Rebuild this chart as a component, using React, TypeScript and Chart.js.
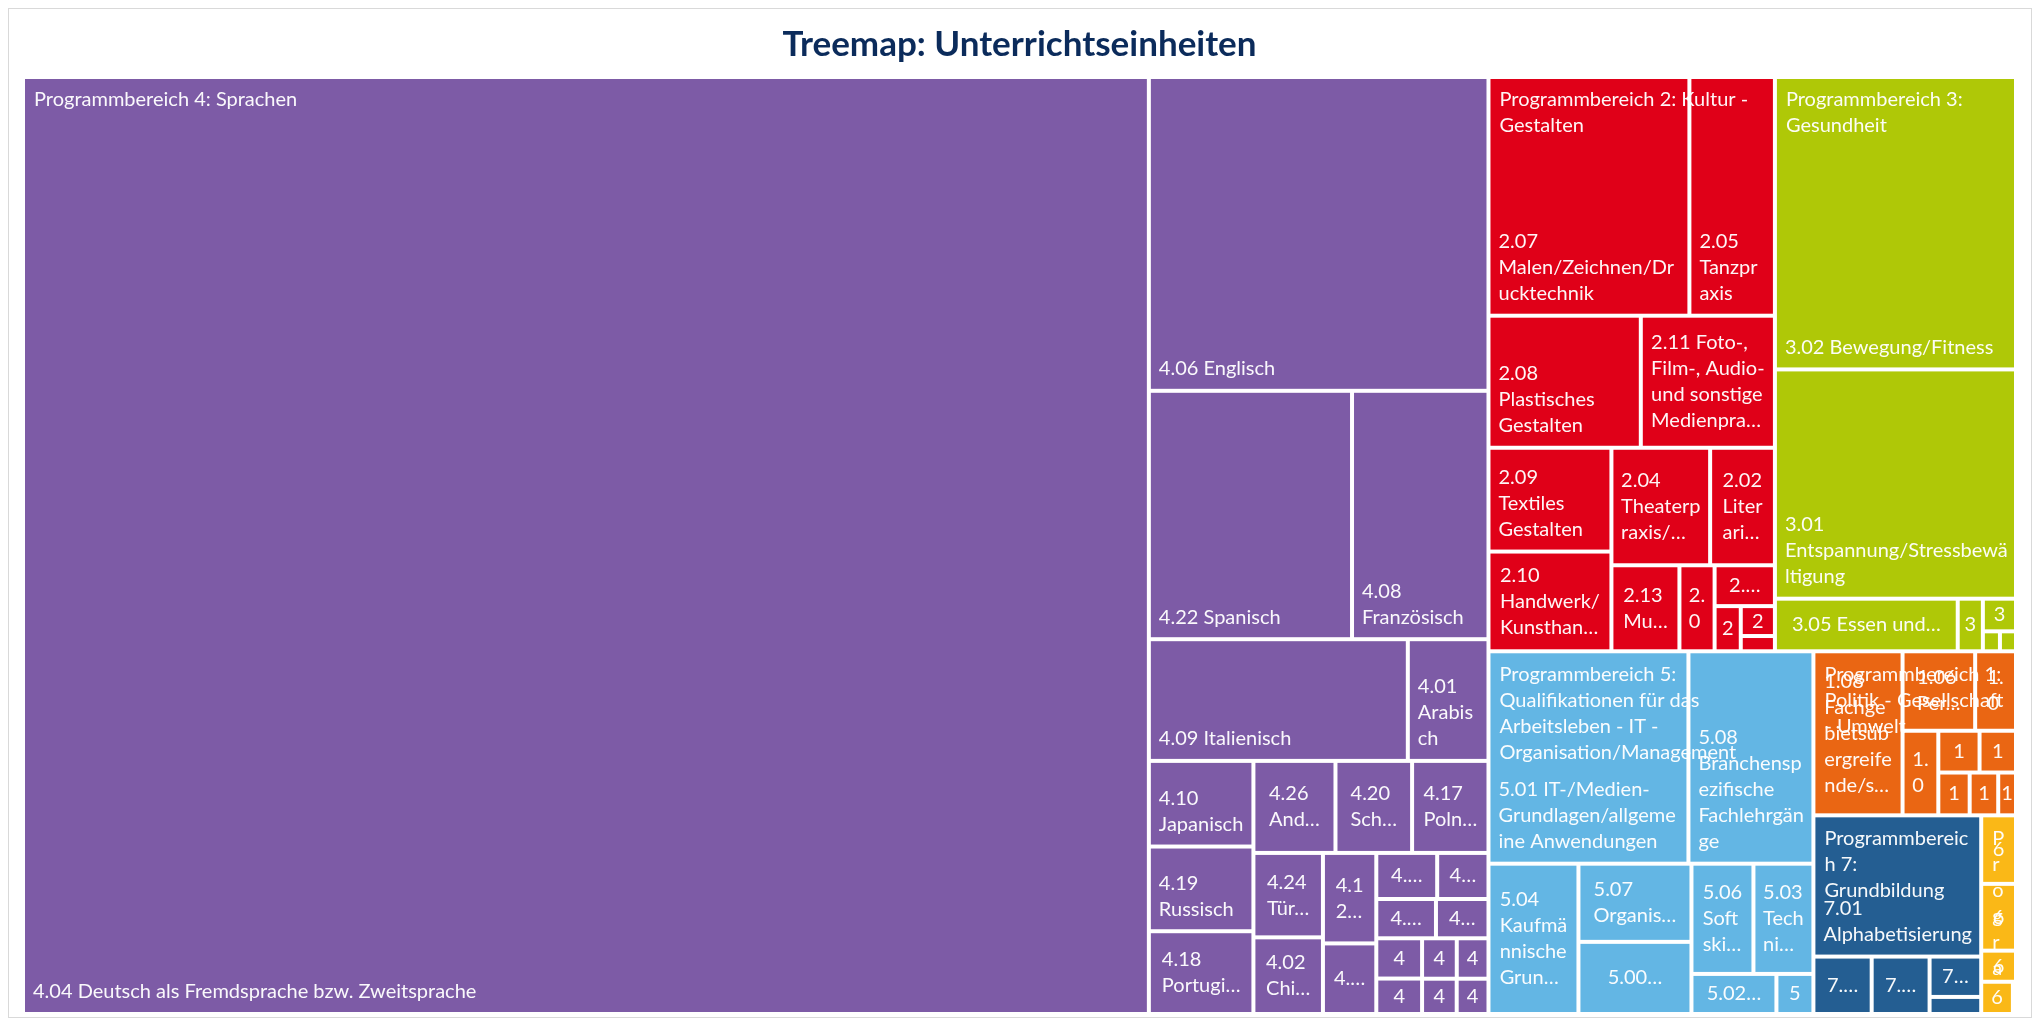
import React, { useEffect, useRef } from "react";
import { Chart, registerables } from "chart.js";

Chart.register(...registerables);

// ---------------- data ----------------
const CHART_TITLE = "Treemap: Unterrichtseinheiten";

const PROGRAMME_LABELS = [
  "Programmbereich 4: Sprachen",
  "Programmbereich 2: Kultur - Gestalten",
  "Programmbereich 3: Gesundheit",
  "Programmbereich 5: Qualifikationen für das Arbeitsleben - IT - Organisation/Management",
  "Programmbereich 1: Politik - Gesellschaft - Umwelt",
  "Programmbereich 7: Grundbildung",
  "Programmbereich 6: Schulabschlüsse",
];
const PROGRAMME_COLORS = ["#7D5BA6", "#E00018", "#AFC807", "#63B6E4", "#EA6613", "#245E92", "#FAB817"];

const PB4_LABELS = [
  "4.04 Deutsch als Fremdsprache bzw. Zweitsprache",
  "4.06 Englisch",
  "4.22 Spanisch",
  "4.08 Französisch",
  "4.09 Italienisch",
  "4.01 Arabisch",
  "4.10 Japanisch",
  "4.19 Russisch",
  "4.18 Portugiesisch",
  "4.26 Andere Sprachen",
  "4.20 Schwedisch",
  "4.17 Polnisch",
  "4.24 Türkisch",
  "4.02 Chinesisch",
  "4.12 Griechisch",
  "4.13 Niederländisch",
  "4.05 Dänisch",
  "4.21 Serbisch",
  "4.07 Finnisch",
  "4.23 Tschechisch",
  "4.14 Norwegisch",
  "4.11 Hebräisch",
  "4.25 Ungarisch",
  "4.15 Persisch",
  "4.16 Latein",
  "4.03 Altgriechisch",
];
const PB4_VALUES = [52659, 5320, 2519, 1692, 1573, 490, 447, 442, 432, 377, 352, 351, 293, 266, 241, 188, 140, 118, 117, 103, 92, 81, 70, 64, 61, 56];

const PB2_LABELS = [
  "2.07 Malen/Zeichnen/Drucktechnik",
  "2.05 Tanzpraxis",
  "2.08 Plastisches Gestalten",
  "2.11 Foto-, Film-, Audio- und sonstige Medienpraxis",
  "2.09 Textiles Gestalten",
  "2.10 Handwerk/Kunsthandwerk",
  "2.04 Theaterpraxis/Kabarett",
  "2.02 Literarisches Schreiben",
  "2.13 Musikpraxis",
  "2.06 Musik",
  "2.03 Kulturgeschichte",
  "2.01 Kulturelle Bildung",
  "2.12 Sonstiges",
  "2.14 Kulturarbeit",
];
const PB2_VALUES = [2394, 1019, 1004, 884, 637, 612, 579, 380, 292, 151, 123, 59, 51, 26];

const PB3_LABELS = [
  "3.02 Bewegung/Fitness",
  "3.01 Entspannung/Stressbewältigung",
  "3.05 Essen und Trinken",
  "3.06 Medizinische Themen",
  "3.03 Körpererfahrung",
  "3.04 Umwelt und Gesundheit",
  "3.07 Sonstiges",
];
const PB3_VALUES = [3519, 2759, 480, 66, 54, 17, 16];

const PB5_LABELS = [
  "5.01 IT-/Medien-Grundlagen/allgemeine Anwendungen",
  "5.08 Branchenspezifische Fachlehrgänge",
  "5.04 Kaufmännische Grundlagen",
  "5.07 Organisation/Management",
  "5.00 Fachübergreifende Qualifikationen",
  "5.06 Soft skills/Methodenkompetenz",
  "5.03 Technik/Naturwissenschaften",
  "5.02 IT-/Medien-Spezialanwendungen",
  "5.05 Sonstiges",
];
const PB5_VALUES = [2120, 1325, 675, 441, 407, 341, 330, 170, 74];

const PB1_LABELS = [
  "1.08 Fachgebietsübergreifende/sonstige Veranstaltungen",
  "1.06 Persönlichkeitsbildung",
  "1.02 Geschichte/Zeitgeschichte",
  "1.03 Gesellschaft",
  "1.04 Umwelt",
  "1.05 Religion/Philosophie",
  "1.01 Politik",
  "1.07 Länderkunde",
  "1.09 Recht",
];
const PB1_VALUES = [730, 288, 162, 151, 86, 76, 67, 61, 38];

const PB7_LABELS = [
  "7.01 Alphabetisierung",
  "7.02 Rechnen",
  "7.03 Grundbildung Deutsch",
  "7.04 Alltagskompetenzen",
  "7.05 Sonstiges",
];
const PB7_VALUES = [1183, 167, 166, 104, 44];

const PB6_LABELS = [
  "6.01 Hauptschulabschluss",
  "6.02 Realschulabschluss",
  "6.03 Abitur",
  "6.04 Vorbereitungskurse",
  "6.05 Sonstiges",
];
const PB6_VALUES = [119, 116, 54, 51, 5];

// how many cells share each strip of the layout (in data order)
const TOP_ROWS = [1, 2, 1, 1, 1, 1];
const PB4_ROWS = [1, 1, 2, 2, 3, 3, 2, 2, 2, 2, 2, 2, 1, 1];
const PB2_ROWS = [2, 2, 2, 2, 1, 1, 1, 1, 1, 1];
const PB3_ROWS = [1, 1, 1, 1, 1, 1, 1];
const PB5_ROWS = [2, 1, 2, 2, 1, 1];
const PB1_ROWS = [1, 2, 1, 2, 1, 1, 1];
const PB7_ROWS = [1, 1, 1, 1, 1];
const PB6_ROWS = [1, 1, 1, 1, 1];

const GROUP_LEAF_LABELS = [PB4_LABELS, PB2_LABELS, PB3_LABELS, PB5_LABELS, PB1_LABELS, PB7_LABELS, PB6_LABELS];
const GROUP_LEAF_VALUES = [PB4_VALUES, PB2_VALUES, PB3_VALUES, PB5_VALUES, PB1_VALUES, PB7_VALUES, PB6_VALUES];
const GROUP_ROWS = [PB4_ROWS, PB2_ROWS, PB3_ROWS, PB5_ROWS, PB1_ROWS, PB7_ROWS, PB6_ROWS];

// ---------------- style ----------------
const FONT_FAMILY = "Lato, 'Open Sans', sans-serif";
const LABEL_FONT = `20px ${FONT_FAMILY}`;
const TITLE_SIZE = 35;
const LINE_H = 26;
const FIT_PAD = 16.75;
const PAD_X = 8;
const WRAP_PAD = 14;
const GAP = 4;

type Rect = { x: number; y: number; w: number; h: number };

const sum = (a: number[]) => a.reduce((s, v) => s + v, 0);

function stripLayout(values: number[], rows: number[], x: number, y: number, w: number, h: number): Rect[] {
  const out: Rect[] = [];
  let remaining = sum(values);
  let i = 0;
  for (const count of rows) {
    const vals = values.slice(i, i + count);
    const s = sum(vals);
    const frac = remaining > 0 ? s / remaining : 0;
    if (w < h) {
      const rh = h * frac;
      let cx = x;
      for (const v of vals) {
        const rw = s > 0 ? (w * v) / s : 0;
        out.push({ x: cx, y, w: rw, h: rh });
        cx += rw;
      }
      y += rh;
      h -= rh;
    } else {
      const cw = w * frac;
      let cy = y;
      for (const v of vals) {
        const ch = s > 0 ? (h * v) / s : 0;
        out.push({ x, y: cy, w: cw, h: ch });
        cy += ch;
      }
      x += cw;
      w -= cw;
    }
    remaining -= s;
    i += count;
  }
  return out;
}

function wrapText(ctx: CanvasRenderingContext2D, text: string, maxW: number): string[] {
  const parts: { t: string; sep: string }[] = [];
  text.split(" ").forEach((word, wi) => {
    const pieces = word.split(/(?<=-)/);
    pieces.forEach((p, pi) => {
      if (p) parts.push({ t: p, sep: pi === 0 && wi > 0 ? " " : "" });
    });
  });
  const fits = (s: string) => ctx.measureText(s).width <= maxW;
  const lines: string[] = [];
  let cur = "";
  for (const { t, sep } of parts) {
    const cand = cur ? cur + sep + t : t;
    if (fits(cand)) {
      cur = cand;
      continue;
    }
    if (cur) {
      lines.push(cur);
      cur = "";
    }
    if (fits(t)) {
      cur = t;
      continue;
    }
    for (const ch of Array.from(t)) {
      if (cur === "" || fits(cur + ch)) cur += ch;
      else {
        lines.push(cur);
        cur = ch;
      }
    }
  }
  if (cur) lines.push(cur);
  return lines;
}

function ellipsize(ctx: CanvasRenderingContext2D, line: string, maxW: number): string {
  const E = "…";
  let s = line.replace(/\s+$/, "");
  while (s.length > 1 && ctx.measureText(s + E).width > maxW) s = s.slice(0, -1).replace(/\s+$/, "");
  if (ctx.measureText(s + E).width <= maxW) return s + E;
  return s;
}

function drawLabel(ctx: CanvasRenderingContext2D, text: string, r: Rect, parent: boolean) {
  if (r.h < 20 || r.w < 8) return;
  const availW = Math.max(r.w - WRAP_PAD, 1);
  let lines = wrapText(ctx, text, availW);
  const maxLines = Math.max(1, Math.floor((r.h - FIT_PAD) / LINE_H));
  let truncated = false;
  if (lines.length > maxLines) {
    truncated = true;
    lines = lines.slice(0, maxLines);
    lines[maxLines - 1] = ellipsize(ctx, lines[maxLines - 1], availW - 4);
  }
  ctx.textAlign = "left";
  ctx.textBaseline = "middle";
  if (parent) {
    lines.forEach((ln, i) => ctx.fillText(ln, r.x + PAD_X + 1, r.y + 21 + i * LINE_H));
  } else if (!truncated) {
    const n = lines.length;
    lines.forEach((ln, i) => ctx.fillText(ln, r.x + PAD_X, r.y + r.h - 20 - (n - 1 - i) * LINE_H));
  } else {
    const bw = Math.max(...lines.map((l) => ctx.measureText(l).width));
    const bx = r.x + (r.w - bw) / 2;
    const by = r.y + (r.h - lines.length * LINE_H) / 2 + LINE_H / 2;
    lines.forEach((ln, i) => ctx.fillText(ln, bx, by + i * LINE_H));
  }
}

const treemapPlugin = {
  id: "treemapCells",
  afterDatasetsDraw(chart: any) {
    const { ctx, chartArea: ca, scales } = chart;
    const xs = scales.x;
    const ys = scales.y;
    const W = ca.right - ca.left;
    const H = ca.bottom - ca.top;
    const toPx = (r: Rect): Rect => {
      const x0 = xs.getPixelForValue(r.x / W);
      const x1 = xs.getPixelForValue((r.x + r.w) / W);
      const y0 = ys.getPixelForValue(r.y / H);
      const y1 = ys.getPixelForValue((r.y + r.h) / H);
      return { x: x0 + GAP / 2, y: y0 + GAP / 2, w: x1 - x0 - GAP, h: y1 - y0 - GAP };
    };
    const totals = GROUP_LEAF_VALUES.map(sum);
    const groupRects = stripLayout(totals, TOP_ROWS, 0, 0, W, H);
    const leafBoxes: { r: Rect; label: string }[] = [];
    ctx.save();
    groupRects.forEach((g, gi) => {
      const cells = stripLayout(GROUP_LEAF_VALUES[gi], GROUP_ROWS[gi], g.x, g.y, g.w, g.h);
      ctx.fillStyle = PROGRAMME_COLORS[gi];
      cells.forEach((c, ci) => {
        const p = toPx(c);
        if (p.w > 0 && p.h > 0) ctx.fillRect(p.x, p.y, p.w, p.h);
        leafBoxes.push({ r: p, label: GROUP_LEAF_LABELS[gi][ci] });
      });
    });
    ctx.font = LABEL_FONT;
    ctx.fillStyle = "rgba(255,255,255,0.96)";
    leafBoxes.forEach((b) => drawLabel(ctx, b.label, b.r, false));
    groupRects.forEach((g, gi) => drawLabel(ctx, PROGRAMME_LABELS[gi], toPx(g), true));
    ctx.restore();
  },
};

export default function App() {
  const ref = useRef<HTMLCanvasElement>(null);
  useEffect(() => {
    const canvas = ref.current;
    if (!canvas) return;
    const chart = new Chart(canvas, {
      type: "scatter",
      data: {
        datasets: PROGRAMME_LABELS.map((label, i) => ({
          label,
          data: [],
          backgroundColor: PROGRAMME_COLORS[i],
        })),
      },
      options: {
        responsive: false,
        animation: false,
        devicePixelRatio: 1,
        layout: { padding: { left: 14, right: 15, top: 0, bottom: 3 } },
        plugins: {
          legend: { display: false },
          tooltip: { enabled: false },
          title: {
            display: true,
            text: CHART_TITLE,
            color: "#0B2B5B",
            font: { family: FONT_FAMILY, size: TITLE_SIZE, weight: "bold", lineHeight: 1.2 },
            padding: { top: 15, bottom: 11 },
          },
        },
        scales: {
          x: { type: "linear", min: 0, max: 1, display: false },
          y: { type: "linear", min: 0, max: 1, reverse: true, display: false },
        },
      },
      plugins: [treemapPlugin],
    } as any);
    let alive = true;
    const fonts: any = (document as any).fonts;
    if (fonts && fonts.load) {
      Promise.all([fonts.load(LABEL_FONT), fonts.load(`bold ${TITLE_SIZE}px Lato`)])
        .then(() => {
          if (alive) chart.update("none");
        })
        .catch(() => {});
    }
    return () => {
      alive = false;
      chart.destroy();
    };
  }, []);
  return (
    <div style={{ width: 2022, height: 1008, border: "1px solid #D9D9D9", background: "#ffffff" }}>
      <canvas ref={ref} width={2022} height={1008} style={{ display: "block", width: 2022, height: 1008 }} />
    </div>
  );
}
